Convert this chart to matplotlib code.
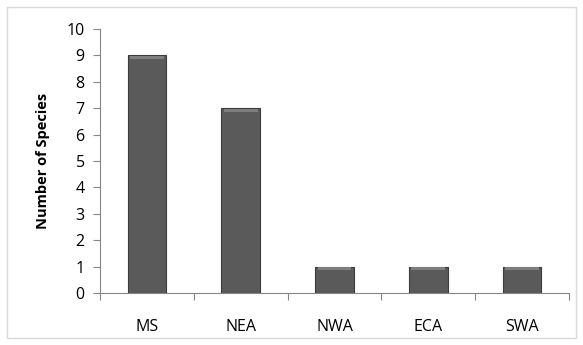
import matplotlib.pyplot as plt
from matplotlib.patches import Rectangle

regions = ["MS", "NEA", "NWA", "ECA", "SWA"]
species = [9, 7, 1, 1, 1]
yticks = list(range(0, 11))

plt.rcParams['font.family'] = ['Open Sans', 'DejaVu Sans']

fig = plt.figure(figsize=(5.83, 3.45), dpi=100)
ax = fig.add_axes([100 / 583, 1 - 293 / 345, 469 / 583, 264 / 345])

# outer frame of the chart area
fig.patches.append(Rectangle((7 / 583, 7 / 345), 569 / 583, 331 / 345,
                             transform=fig.transFigure, fill=False,
                             edgecolor='#d9d9d9', linewidth=1))

x = list(range(len(regions)))
ax.bar(x, species, width=0.41, color='#5a5a5a', edgecolor='#3c3c3c', linewidth=0.8, zorder=3)
# light bevel at the top of each bar
ax.bar(x, [0.1] * len(x), bottom=[v - 0.13 for v in species], width=0.36,
       color='#7e7e7e', linewidth=0, zorder=4)

ax.set_xlim(-0.5, len(regions) - 0.5)
ax.set_ylim(0, 10)
ax.set_yticks(yticks)
ax.set_xticks([i - 0.5 for i in range(len(regions) + 1)], minor=False)
ax.set_xticklabels([])
ax.set_xticks(x, minor=True)
ax.set_xticklabels(regions, minor=True)
ax.tick_params(axis='x', which='minor', length=0, pad=19, labelsize=11.5)
ax.tick_params(axis='x', which='major', length=5, color='#868686', direction='out')
ax.tick_params(axis='y', length=5, color='#868686', direction='out', labelsize=11.5, pad=6)

for s in ['top', 'right']:
    ax.spines[s].set_visible(False)
for s in ['left', 'bottom']:
    ax.spines[s].set_color('#868686')

ax.set_ylabel("Number of Species", fontsize=10.5, fontweight='bold', labelpad=12)

fig.savefig("out.png", dpi=100)
